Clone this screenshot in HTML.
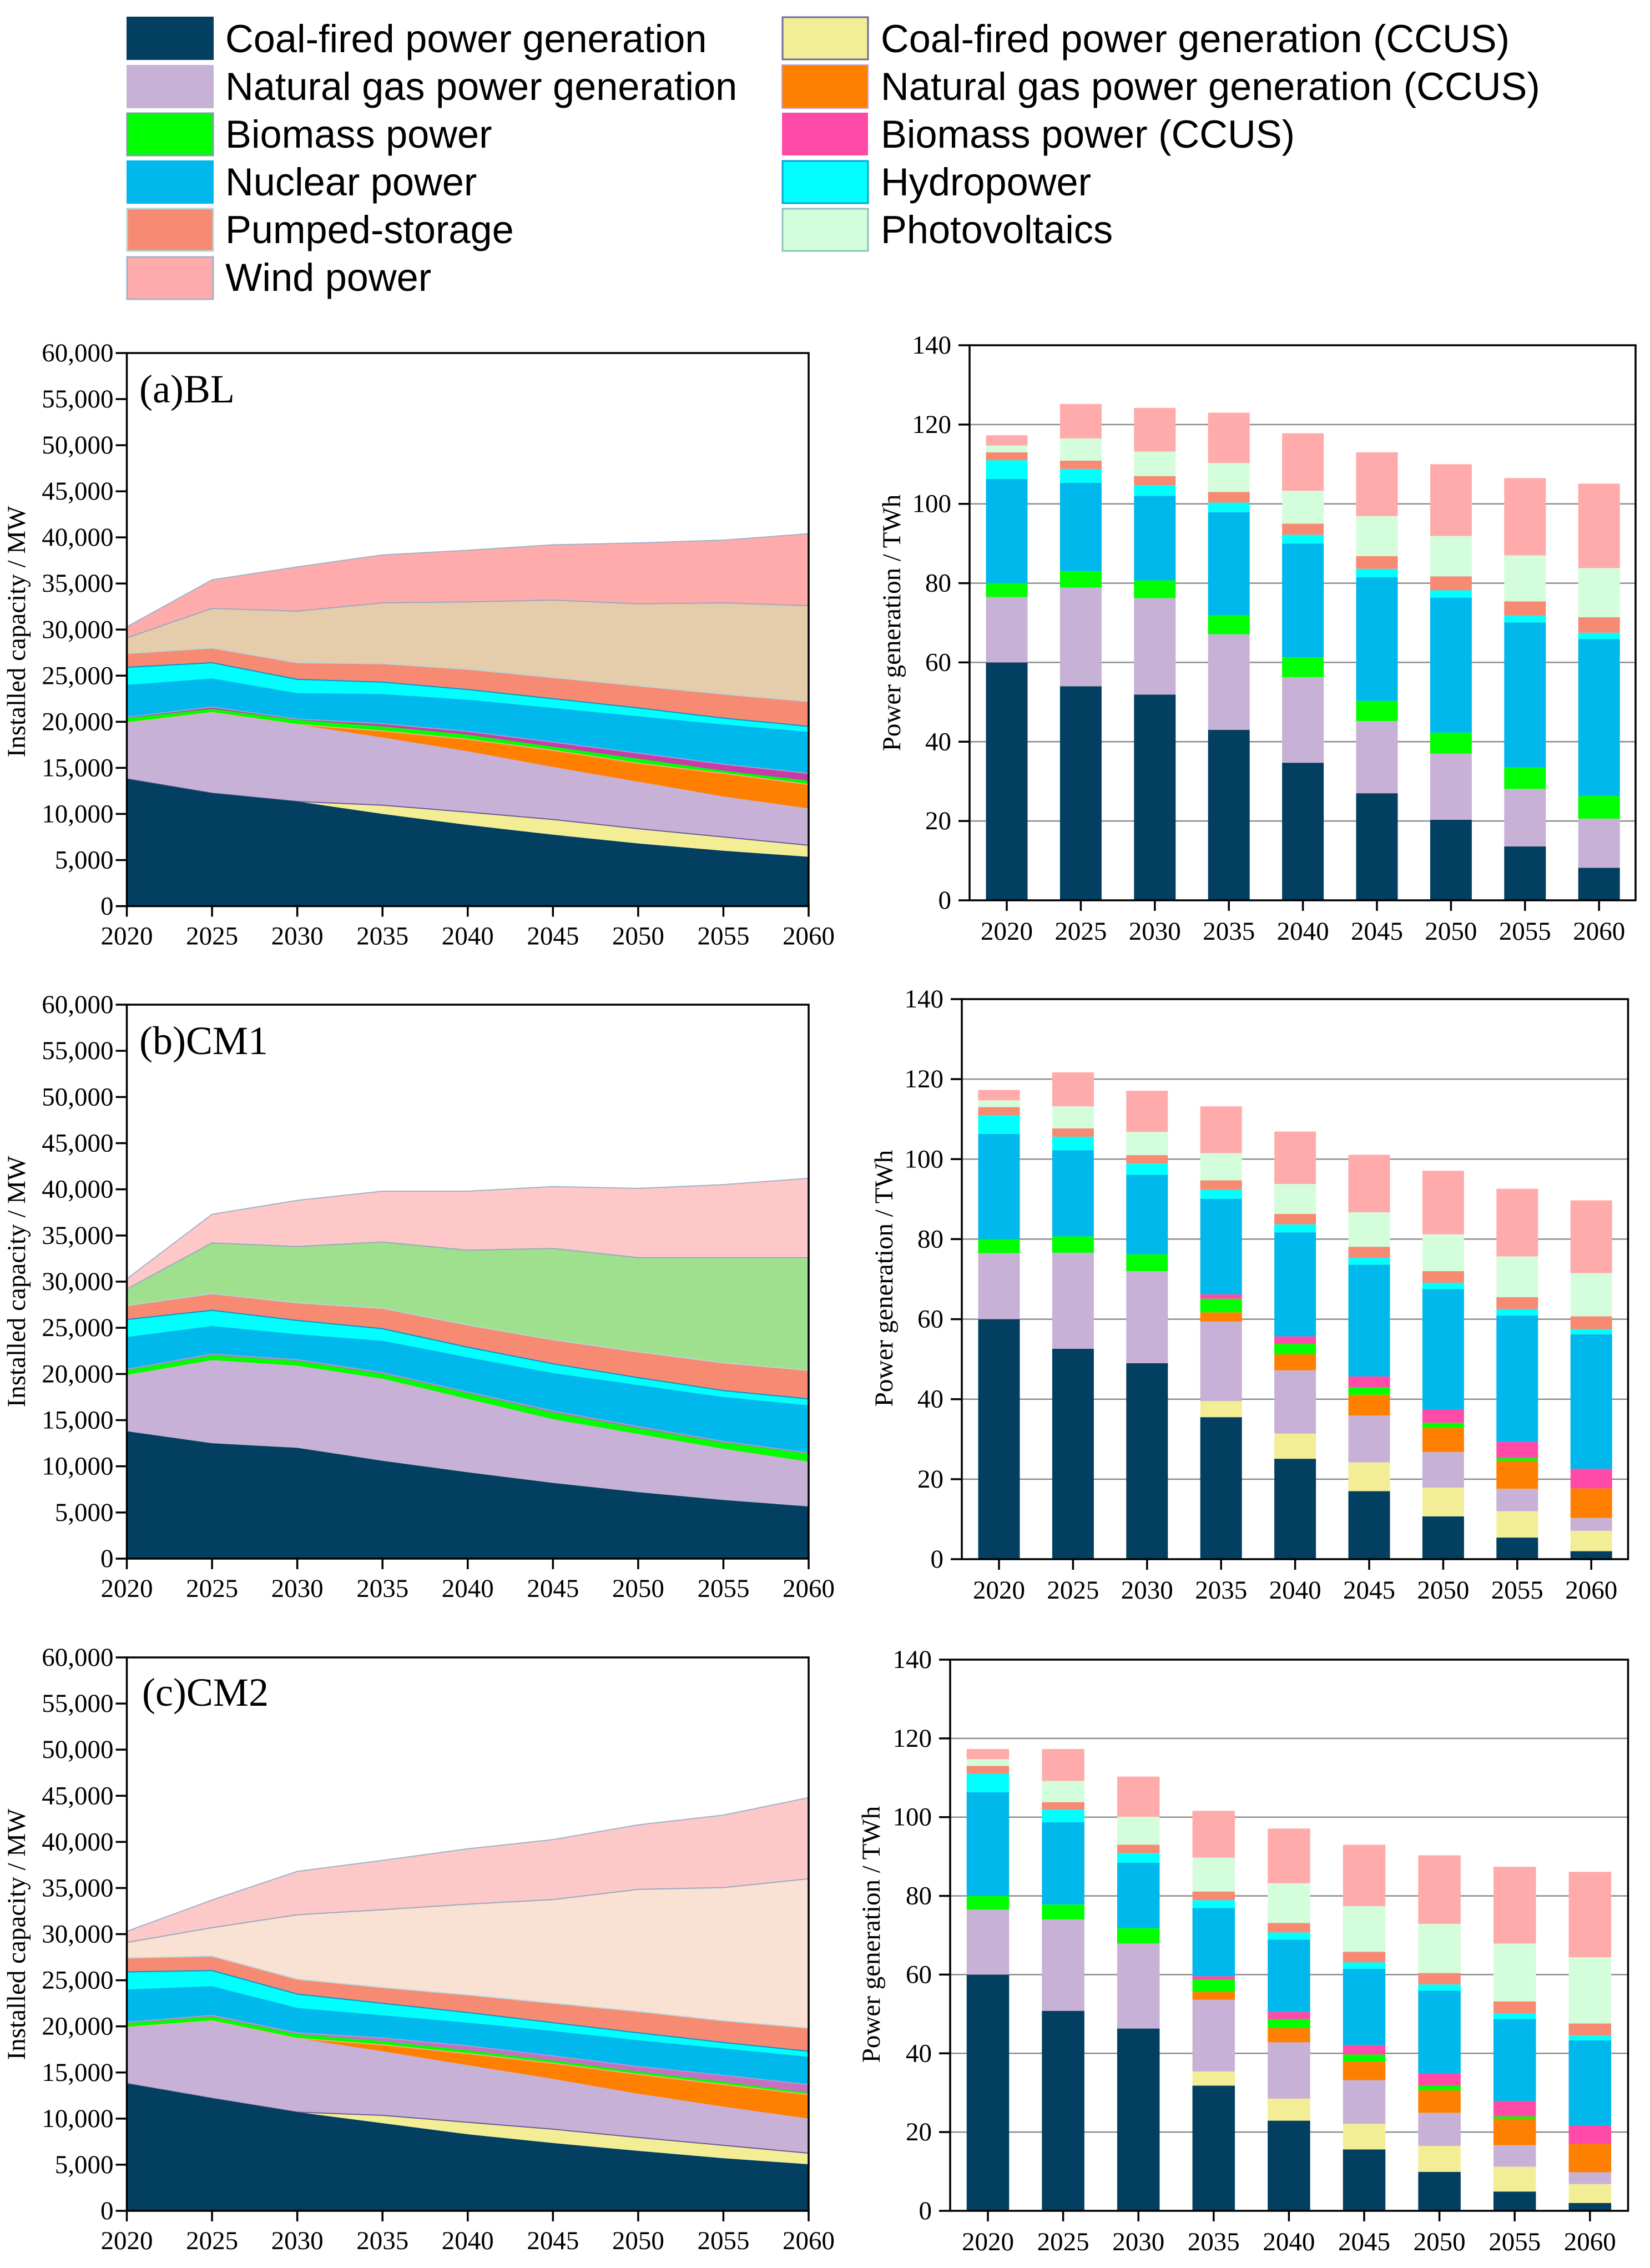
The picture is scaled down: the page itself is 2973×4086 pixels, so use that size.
<!DOCTYPE html>
<html lang="en">
<head>
<meta charset="utf-8">
<title>Installed capacity and power generation by scenario</title>
<style>
html,body{margin:0;padding:0;background:#fff;}
svg{display:block;}
.legend-text{font-family:"Liberation Sans",Arial,sans-serif;font-size:70.3px;fill:#000;}
.serif{font-family:"Liberation Serif","Times New Roman",serif;fill:#000;}
</style>
</head>
<body>
<svg id="figure" xmlns="http://www.w3.org/2000/svg" width="2973" height="4086" viewBox="0 0 2973 4086">
<rect x="0" y="0" width="2973" height="4086" fill="#fff"/>
<g>
<g><rect x="228" y="30" width="157" height="78" fill="#023f60"/><text class="legend-text" x="406" y="94">Coal-fired power generation</text></g>
<g><rect x="228" y="117" width="157" height="78" fill="#c8b1d6"/><text class="legend-text" x="406" y="180">Natural gas power generation</text></g>
<g><rect x="229" y="204" width="155" height="76" fill="#00ff00" stroke="#7f9f9f" stroke-width="3"/><text class="legend-text" x="406" y="266">Biomass power</text></g>
<g><rect x="228" y="289" width="157" height="78" fill="#00b8ec"/><text class="legend-text" x="406" y="352">Nuclear power</text></g>
<g><rect x="229" y="376" width="155" height="76" fill="#f68a72" stroke="#b8d4d8" stroke-width="3"/><text class="legend-text" x="406" y="438">Pumped-storage</text></g>
<g><rect x="229" y="463" width="155" height="76" fill="#ffabab" stroke="#9fb4c8" stroke-width="3"/><text class="legend-text" x="406" y="524">Wind power</text></g>
<g><rect x="1410" y="31" width="154" height="76" fill="#f3ee96" stroke="#6b6a9a" stroke-width="3"/><text class="legend-text" x="1587" y="94">Coal-fired power generation (CCUS)</text></g>
<g><rect x="1409" y="117" width="155" height="78" fill="#ff8000" stroke="#c8a0c8" stroke-width="2"/><text class="legend-text" x="1587" y="180">Natural gas power generation (CCUS)</text></g>
<g><rect x="1409" y="203" width="155" height="77" fill="#ff4aa8"/><text class="legend-text" x="1587" y="266">Biomass power (CCUS)</text></g>
<g><rect x="1410" y="290" width="154" height="76" fill="#00ffff" stroke="#00a8d0" stroke-width="3"/><text class="legend-text" x="1587" y="352">Hydropower</text></g>
<g><rect x="1410" y="376" width="154" height="76" fill="#d4fddc" stroke="#8fc0c0" stroke-width="3"/><text class="legend-text" x="1587" y="438">Photovoltaics</text></g>
</g>
</svg>
<script>
// Shared categories and tick labels
const years = [2020, 2025, 2030, 2035, 2040, 2045, 2050, 2055, 2060];
const capacityTicks = [0, 5000, 10000, 15000, 20000, 25000, 30000, 35000, 40000, 45000, 50000, 55000, 60000];
const generationTicks = [0, 20, 40, 60, 80, 100, 120, 140];
const seriesNames = ['coal', 'coal-ccus', 'gas', 'gas-ccus', 'biomass', 'biomass-ccus', 'nuclear', 'hydro', 'pumped-storage', 'photovoltaics', 'wind'];

// Stacked values: each array is the running stack total at the top of that series.
// Panel (a) BL, installed capacity / MW
const capA_coal = [13800, 12250, 11350, 10000, 8800, 7750, 6800, 6000, 5350];
const capA_coalCCUS = [13800, 12250, 11350, 10950, 10200, 9400, 8400, 7500, 6600];
const capA_gas = [19900, 21000, 19700, 18300, 16800, 15100, 13500, 11900, 10600];
const capA_gasCCUS = [19900, 21000, 19700, 19000, 18100, 16900, 15500, 14400, 13200];
const capA_biomass = [20400, 21400, 20200, 19500, 18600, 17300, 16000, 14700, 13600];
const capA_biomassCCUS = [20500, 21600, 20300, 19800, 18950, 17800, 16600, 15400, 14400];
const capA_nuclear = [24000, 24700, 23100, 23000, 22400, 21500, 20600, 19700, 18900];
const capA_hydro = [25900, 26400, 24600, 24300, 23500, 22500, 21500, 20400, 19500];
const capA_pumped = [27400, 28000, 26400, 26300, 25700, 24800, 23900, 23000, 22200];
const capA_pv = [29100, 32300, 32000, 32900, 33000, 33200, 32800, 32900, 32600];
const capA_wind = [30300, 35400, 36800, 38100, 38600, 39200, 39400, 39700, 40400];

// Panel (b) CM1, installed capacity / MW
const capB_coal = [13800, 12500, 12000, 10600, 9350, 8200, 7200, 6350, 5650];
const capB_coalCCUS = [13800, 12500, 12000, 10600, 9350, 8200, 7200, 6350, 5650];
const capB_gas = [19900, 21500, 20900, 19500, 17300, 15100, 13500, 11900, 10500];
const capB_gasCCUS = [19900, 21500, 20900, 19500, 17300, 15100, 13500, 11900, 10500];
const capB_biomass = [20400, 22000, 21400, 20000, 17900, 15800, 14100, 12550, 11350];
const capB_biomassCCUS = [20500, 22150, 21550, 20150, 18050, 16000, 14300, 12700, 11450];
const capB_nuclear = [24000, 25200, 24300, 23600, 21800, 20100, 18800, 17500, 16600];
const capB_hydro = [25900, 26900, 25800, 24900, 22900, 21100, 19600, 18200, 17300];
const capB_pumped = [27400, 28700, 27700, 27100, 25300, 23700, 22400, 21200, 20400];
const capB_pv = [29200, 34200, 33800, 34300, 33400, 33600, 32600, 32600, 32600];
const capB_wind = [30300, 37300, 38800, 39800, 39800, 40300, 40100, 40500, 41200];

// Panel (c) CM2, installed capacity / MW
const capC_coal = [13800, 12200, 10700, 9500, 8300, 7350, 6500, 5700, 5050];
const capC_coalCCUS = [13800, 12200, 10700, 10350, 9600, 8850, 7950, 7100, 6250];
const capC_gas = [19900, 20600, 18700, 17300, 15800, 14300, 12700, 11300, 10000];
const capC_gasCCUS = [19900, 20600, 18700, 18000, 17050, 16000, 14800, 13700, 12600];
const capC_biomass = [20350, 21050, 19150, 18400, 17400, 16300, 15100, 14000, 12800];
const capC_biomassCCUS = [20450, 21200, 19300, 18750, 17900, 16800, 15650, 14700, 13700];
const capC_nuclear = [24000, 24350, 22000, 21200, 20400, 19500, 18500, 17600, 16700];
const capC_hydro = [25900, 26050, 23500, 22500, 21500, 20400, 19300, 18250, 17300];
const capC_pumped = [27400, 27600, 25100, 24200, 23400, 22500, 21600, 20600, 19800];
const capC_pv = [29100, 30700, 32100, 32650, 33250, 33750, 34850, 35050, 36000];
const capC_wind = [30300, 33700, 36800, 38000, 39250, 40250, 41850, 42900, 44800];

// Panel (a) BL, power generation / TWh
const genA_coal = [60, 54, 51.9, 43, 34.7, 27, 20.3, 13.6, 8.2];
const genA_coalCCUS = [60, 54, 51.9, 43, 34.7, 27, 20.3, 13.6, 8.2];
const genA_gas = [76.5, 78.9, 76.2, 67.1, 56.3, 45.2, 37, 28.1, 20.6];
const genA_gasCCUS = [76.5, 78.9, 76.2, 67.1, 56.3, 45.2, 37, 28.1, 20.6];
const genA_biomass = [80, 83, 80.7, 71.9, 61.3, 50.3, 42.3, 33.5, 26.3];
const genA_biomassCCUS = [80, 83, 80.7, 71.9, 61.3, 50.3, 42.3, 33.5, 26.3];
const genA_nuclear = [106.3, 105.3, 102, 97.9, 90, 81.5, 76.3, 70.1, 65.9];
const genA_hydro = [111, 108.8, 104.7, 100.3, 92.2, 83.6, 78.2, 71.8, 67.5];
const genA_pumped = [113, 110.9, 107, 103, 95, 86.8, 81.7, 75.4, 71.4];
const genA_pv = [114.7, 116.5, 113.2, 110.3, 103.3, 96.9, 91.9, 87, 83.8];
const genA_wind = [117.3, 125.2, 124.2, 123, 117.8, 113, 110, 106.5, 105.1];

// Panel (b) CM1, power generation / TWh
const genB_coal = [60, 52.6, 49, 35.5, 25.1, 17, 10.7, 5.4, 2];
const genB_coalCCUS = [60, 52.6, 49, 39.5, 31.4, 24.2, 17.9, 12, 7.1];
const genB_gas = [76.5, 76.6, 72, 59.4, 47.2, 35.9, 26.8, 17.6, 10.3];
const genB_gasCCUS = [76.5, 76.6, 72, 61.7, 51.2, 41.1, 32.8, 24.6, 17.7];
const genB_biomass = [80, 80.7, 76.2, 65.1, 53.8, 43, 34.1, 25.3, 17.7];
const genB_biomassCCUS = [80, 80.7, 76.2, 66.2, 55.7, 45.7, 37.4, 29.3, 22.6];
const genB_nuclear = [106.3, 102.2, 96.1, 90.1, 81.7, 73.6, 67.5, 60.9, 56.2];
const genB_hydro = [111, 105.6, 98.9, 92.3, 83.7, 75.3, 69.1, 62.5, 57.5];
const genB_pumped = [113, 107.7, 101, 94.7, 86.3, 78.1, 72, 65.5, 60.7];
const genB_pv = [114.7, 113.2, 106.8, 101.5, 93.8, 86.7, 81.2, 75.7, 71.5];
const genB_wind = [117.3, 121.7, 117.1, 113.2, 106.9, 101.1, 97.1, 92.6, 89.7];

// Panel (c) CM2, power generation / TWh
const genC_coal = [60, 50.8, 46.3, 31.8, 22.9, 15.6, 9.9, 4.9, 2];
const genC_coalCCUS = [60, 50.8, 46.3, 35.4, 28.5, 22.1, 16.5, 11.2, 6.8];
const genC_gas = [76.5, 74, 67.9, 53.6, 42.8, 33.2, 24.9, 16.7, 9.8];
const genC_gasCCUS = [76.5, 74, 67.9, 55.6, 46.4, 37.9, 30.6, 23.4, 17];
const genC_biomass = [80, 77.8, 71.8, 58.7, 48.7, 39.7, 31.8, 24, 17];
const genC_biomassCCUS = [80, 77.8, 71.8, 59.6, 50.5, 42.1, 34.9, 27.9, 21.7];
const genC_nuclear = [106.3, 98.7, 88.4, 76.9, 68.9, 61.5, 55.9, 48.7, 43.3];
const genC_hydro = [111, 101.9, 90.9, 78.9, 70.7, 63.1, 57.5, 50.2, 44.5];
const genC_pumped = [113, 103.8, 93, 81.1, 73.1, 65.8, 60.4, 53.2, 47.6];
const genC_pv = [114.7, 109.2, 100.1, 89.7, 83.2, 77.4, 72.9, 67.9, 64.4];
const genC_wind = [117.3, 117.3, 110.3, 101.6, 97.1, 93, 90.3, 87.4, 86.1];

const capA = [capA_coal, capA_coalCCUS, capA_gas, capA_gasCCUS, capA_biomass, capA_biomassCCUS, capA_nuclear, capA_hydro, capA_pumped, capA_pv, capA_wind];
const capB = [capB_coal, capB_coalCCUS, capB_gas, capB_gasCCUS, capB_biomass, capB_biomassCCUS, capB_nuclear, capB_hydro, capB_pumped, capB_pv, capB_wind];
const capC = [capC_coal, capC_coalCCUS, capC_gas, capC_gasCCUS, capC_biomass, capC_biomassCCUS, capC_nuclear, capC_hydro, capC_pumped, capC_pv, capC_wind];
const genA = [genA_coal, genA_coalCCUS, genA_gas, genA_gasCCUS, genA_biomass, genA_biomassCCUS, genA_nuclear, genA_hydro, genA_pumped, genA_pv, genA_wind];
const genB = [genB_coal, genB_coalCCUS, genB_gas, genB_gasCCUS, genB_biomass, genB_biomassCCUS, genB_nuclear, genB_hydro, genB_pumped, genB_pv, genB_wind];
const genC = [genC_coal, genC_coalCCUS, genC_gas, genC_gasCCUS, genC_biomass, genC_biomassCCUS, genC_nuclear, genC_hydro, genC_pumped, genC_pv, genC_wind];

// Styling
const barColors = ['#023f60', '#f3ee96', '#c8b1d6', '#ff8000', '#00ff00', '#ff4aa8', '#00b8ec', '#00ffff', '#f68a72', '#d4fddc', '#ffabab'];
const edgeColors = [null, '#6a5a9a', null, '#f0b088', null, '#9aa4d0', null, '#1090c8', '#b8d4d8', '#9aa8c0', '#9fb4c8'];
const areaColorsA = ['#023f60', '#f3ee96', '#c8b1d6', '#ff8000', '#00ff00', '#c83ca8', '#00b8ec', '#00ffff', '#f68a72', '#e5ccab', '#ffabab'];
const areaColorsB = ['#023f60', '#f3ee96', '#c8b1d6', '#ff8000', '#00ff00', '#a878a8', '#00b8ec', '#00ffff', '#f68a72', '#9ee08e', '#ffc8c8'];
const areaColorsC = ['#023f60', '#f3ee96', '#c8b1d6', '#ff8000', '#00ff00', '#c86fc0', '#00b8ec', '#00ffff', '#f68a72', '#f9e1d3', '#fdc8c8'];

const NS = 'http://www.w3.org/2000/svg';
const figure = document.getElementById('figure');

function make(tag, parent, attrs, text) {
  const el = document.createElementNS(NS, tag);
  for (const k in attrs) el.setAttribute(k, attrs[k]);
  if (text !== undefined) el.textContent = text;
  parent.appendChild(el);
  return el;
}

function linear(d0, d1, r0, r1) {
  return function (v) { return r0 + (v - d0) * (r1 - r0) / (d1 - d0); };
}

function drawFrame(g, box, prefix) {
  const frame = make('rect', g, { x: box.left, y: box.top, width: box.right - box.left, height: box.bottom - box.top, fill: 'none', stroke: '#000', 'stroke-width': 3.5 });
  
  
}

function drawYAxis(g, box, ticks, yScale, labelRight, fmt, prefix) {
  ticks.forEach(function (t) {
    const y = yScale(t);
    const tick = make('line', g, { x1: box.left - 20, x2: box.left, y1: y, y2: y, stroke: '#000', 'stroke-width': 3.5 });
    
    
    const label = make('text', g, { x: labelRight, y: y + 15, 'text-anchor': 'end', 'font-size': 47, class: 'serif' }, fmt(t));
    
    
  });
}

function drawXLabel(g, x, box, text, baseline, prefix) {
  const tick = make('line', g, { x1: x, x2: x, y1: box.bottom, y2: box.bottom + 19, stroke: '#000', 'stroke-width': 3.5 });
  
  
  const label = make('text', g, { x: x, y: baseline, 'text-anchor': 'middle', 'font-size': 47, class: 'serif' }, text);
  
  
}

function drawYTitle(g, x, y, text, prefix) {
  const title = make('text', g, { x: x, y: y, transform: 'rotate(-90 ' + x + ' ' + y + ')', 'text-anchor': 'middle', 'font-size': 47, class: 'serif' }, text);
  
  
}

function drawAreaPanel(cfg) {
  const box = cfg.box;
  const g = make('g', figure, {});
  
  
  const xScale = linear(years[0], years[years.length - 1], box.left, box.right);
  const yScale = linear(capacityTicks[0], capacityTicks[capacityTicks.length - 1], box.bottom, box.top);
  for (let s = cfg.data.length - 1; s >= 0; s--) {
    const tops = cfg.data[s];
    const line = tops.map(function (v, i) { return xScale(years[i]).toFixed(1) + ',' + yScale(v).toFixed(1); });
    const poly = make('polygon', g, { points: line.join(' ') + ' ' + box.right + ',' + box.bottom + ' ' + box.left + ',' + box.bottom, fill: cfg.colors[s] });
    
    
    const below = s > 0 ? cfg.data[s - 1] : null;
    const visible = !below || tops.some(function (v, i) { return v !== below[i]; });
    if (visible && edgeColors[s]) {
      const edge = make('polyline', g, { points: line.join(' '), fill: 'none', stroke: edgeColors[s], 'stroke-width': 2 });
      
      
    }
  }
  drawFrame(g, box, cfg.name);
  drawYAxis(g, box, capacityTicks, yScale, box.left - 24, function (t) { return t.toLocaleString('en-US'); }, cfg.name);
  years.forEach(function (yr) {
    drawXLabel(g, xScale(yr), box, String(yr), box.bottom + 69, cfg.name);
  });
  drawYTitle(g, 45, cfg.titleY, 'Installed capacity / MW', cfg.name);
  const tag = make('text', g, { x: cfg.tagX, y: cfg.tagY, 'font-size': 72, class: 'serif' }, cfg.tag);
  
  
}

function drawBarPanel(cfg) {
  const box = cfg.box;
  const g = make('g', figure, {});
  
  
  const yScale = linear(generationTicks[0], generationTicks[generationTicks.length - 1], box.bottom, box.top);
  const xScale = function (i) { return cfg.firstX + i * cfg.stepX; };
  generationTicks.forEach(function (t) {
    if (t === generationTicks[0] || t === generationTicks[generationTicks.length - 1]) return;
    const grid = make('line', g, { x1: box.left, x2: box.right, y1: yScale(t), y2: yScale(t), stroke: '#8c8c8c', 'stroke-width': 2.5 });
    
    
  });
  years.forEach(function (yr, i) {
    cfg.data.forEach(function (tops, s) {
      const base = s > 0 ? cfg.data[s - 1][i] : 0;
      const h = yScale(base) - yScale(tops[i]);
      if (h <= 0) return;
      const bar = make('rect', g, { x: xScale(i) - cfg.barW / 2, y: yScale(tops[i]), width: cfg.barW, height: h, fill: barColors[s] });
      
      
    });
  });
  drawFrame(g, box, cfg.name);
  drawYAxis(g, box, generationTicks, yScale, box.left - 33, function (t) { return String(t); }, cfg.name);
  years.forEach(function (yr, i) {
    drawXLabel(g, xScale(i), box, String(yr), box.bottom + 71, cfg.name);
  });
  drawYTitle(g, cfg.titleX, cfg.titleY, 'Power generation / TWh', cfg.name);
}

drawAreaPanel({ name: 'capacity-chart-bl', data: capA, colors: areaColorsA, tag: '(a)BL', tagX: 251, tagY: 725, titleY: 1138, box: { left: 228.5, right: 1457, top: 636, bottom: 1632.5 } });
drawAreaPanel({ name: 'capacity-chart-cm1', data: capB, colors: areaColorsB, tag: '(b)CM1', tagX: 251, tagY: 1899, titleY: 2309, box: { left: 228.5, right: 1457, top: 1810, bottom: 2808 } });
drawAreaPanel({ name: 'capacity-chart-cm2', data: capC, colors: areaColorsC, tag: '(c)CM2', tagX: 256, tagY: 3073, titleY: 3485, box: { left: 228.5, right: 1457, top: 2986, bottom: 3983 } });

drawBarPanel({ name: 'generation-chart-bl', data: genA, firstX: 1814, stepX: 133.4, barW: 75, titleX: 1622, titleY: 1122, box: { left: 1747, right: 2947, top: 622, bottom: 1622 } });
drawBarPanel({ name: 'generation-chart-cm1', data: genB, firstX: 1800, stepX: 133.4, barW: 75, titleX: 1608, titleY: 2303, box: { left: 1733, right: 2933.5, top: 1800, bottom: 2809 } });
drawBarPanel({ name: 'generation-chart-cm2', data: genC, firstX: 1780, stepX: 135.6, barW: 76.5, titleX: 1585, titleY: 3485, box: { left: 1712, right: 2933.5, top: 2990, bottom: 3983 } });
</script>
</body>
</html>
